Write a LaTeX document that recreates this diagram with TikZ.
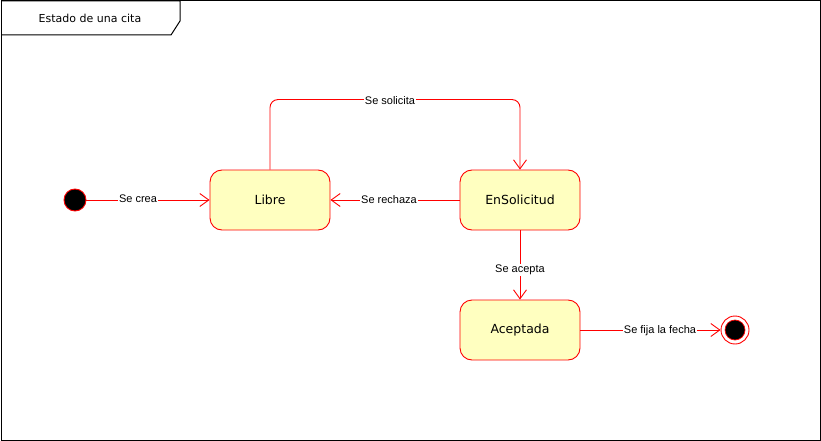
\documentclass[tikz,border=0pt]{standalone}
\usepackage{fontspec}
\setmainfont{Liberation Sans}
\newfontfamily\boxfont{DejaVu Sans}
\usetikzlibrary{arrows.meta}
\definecolor{stfill}{HTML}{FFFFC0}
\definecolor{stred}{HTML}{FF0000}
\tikzset{
  state/.style={draw=stred, fill=stfill, line width=0.9pt, rounded corners=12pt, minimum width=120pt, minimum height=60pt, inner sep=0pt, font=\boxfont\fontsize{12.5}{14}\selectfont},
  trans/.style={draw=stred, line width=0.9pt, -{Straight Barb[length=9pt,width=13pt,line width=0.9pt]}},
  lbl/.style={fill=white, inner sep=1pt, font=\fontsize{11}{13}\selectfont},
}
\begin{document}
\begin{tikzpicture}[x=1pt,y=-1pt]
\useasboundingbox (0,0) rectangle (821,441);
\draw[line width=1pt] (1,1) rectangle (820,440);
\draw[line width=1pt] (1,1) -- (180,1) -- (180,21) -- (171,35) -- (1,35);
\node[font=\boxfont\fontsize{11}{13}\selectfont] (title) at (90,18) {Estado de una cita};

\node[circle, draw=stred, fill=black, minimum size=22pt, inner sep=0pt, line width=0.9pt] (init) at (75,200) {};
\node[state] (libre) at (270,200) {Libre};
\node[state] (ens) at (520,200) {EnSolicitud};
\node[state] (acep) at (520,330) {Aceptada};
\node[circle, draw=stred, fill=white, minimum size=28pt, inner sep=0pt, line width=0.9pt] (fin) at (735,330) {};
\node[circle, draw=stred, fill=black, minimum size=20pt, inner sep=0pt, line width=0.7pt] (finin) at (735,330) {};

\draw[trans] (init) -- (libre);
\node[lbl] (l1) at (138,199) {Se crea};
\draw[trans, rounded corners=8pt] (libre.north) -- ++(0,-70) coordinate (c1) -| (ens.north);
\node[lbl] (l2) at (390,101) {Se solicita};
\draw[trans] (ens) -- (libre);
\node[lbl] (l3) at (389,200) {Se rechaza};
\draw[trans] (ens) -- (acep);
\node[lbl] (l4) at (520,270) {Se acepta};
\draw[trans] (acep) -- (fin);
\node[lbl] (l5) at (660,331) {Se fija la fecha};
\end{tikzpicture}
\end{document}
